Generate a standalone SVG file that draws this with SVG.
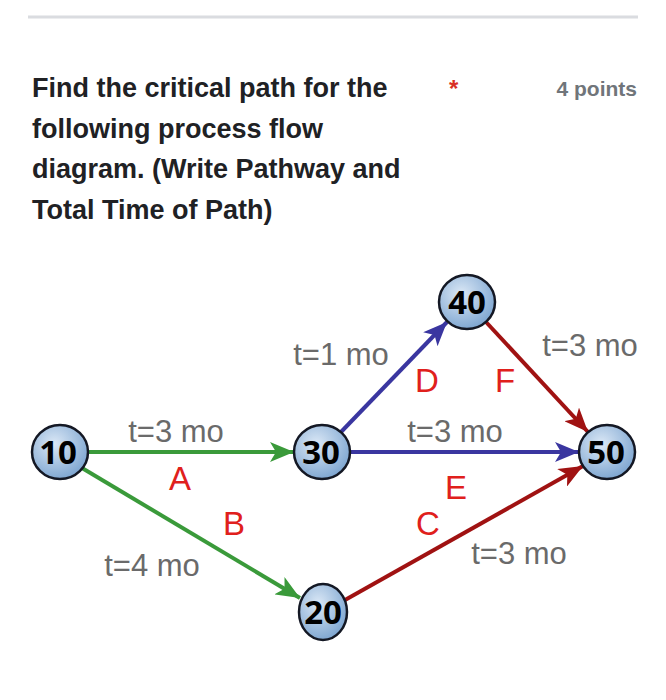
<svg xmlns="http://www.w3.org/2000/svg" width="666" height="700" viewBox="0 0 666 700">
<style>
.title{font-family:"Liberation Sans",Arial,sans-serif;font-weight:bold;font-size:27px;fill:#202124}
.pts{font-family:"Liberation Sans",Arial,sans-serif;font-weight:bold;font-size:21px;fill:#70757a}
.t{font-family:"Liberation Sans",Arial,sans-serif;font-size:31px;fill:#6a6a6a;text-anchor:middle}
.l{font-family:"Liberation Sans",Arial,sans-serif;font-size:33px;fill:#e0201c;text-anchor:middle}
.nd ellipse{fill:url(#g);stroke:#141824;stroke-width:2.5}
.nd text{font-family:"Open Sans","Liberation Sans",sans-serif;font-weight:bold;font-size:33px;fill:#000;text-anchor:middle}
.e{stroke-width:4;fill:none}
</style>
<defs>
<radialGradient id="g" cx="0.4" cy="0.35" r="0.7">
<stop offset="0" stop-color="#dbe8f6"/>
<stop offset="1" stop-color="#7aa3cf"/>
</radialGradient>
<marker id="ag" markerUnits="userSpaceOnUse" markerWidth="26" markerHeight="20" refX="24" refY="10" orient="auto"><path d="M0,0 L24,10 L0,20 L6,10 z" fill="#3a9a3a"/></marker>
<marker id="ab" markerUnits="userSpaceOnUse" markerWidth="26" markerHeight="20" refX="24" refY="10" orient="auto"><path d="M0,0 L24,10 L0,20 L6,10 z" fill="#3a36a0"/></marker>
<marker id="ar" markerUnits="userSpaceOnUse" markerWidth="26" markerHeight="20" refX="24" refY="10" orient="auto"><path d="M0,0 L24,10 L0,20 L6,10 z" fill="#a01212"/></marker>
</defs>
<rect width="666" height="700" fill="#fff"/>
<line x1="28" y1="17" x2="638" y2="17" stroke="#dadce0" stroke-width="3"/>
<text class="title" x="32" y="97">Find the critical path for the</text>
<text class="title" x="32" y="138">following process flow</text>
<text class="title" x="32" y="178">diagram. (Write Pathway and</text>
<text class="title" x="32" y="219">Total Time of Path)</text>
<text x="449" y="97" font-family="Liberation Sans,Arial,sans-serif" font-weight="bold" font-size="24" fill="#d93025">*</text>
<text class="pts" x="637" y="96" text-anchor="end">4 points</text>
<g id="connectors">
<line class="e" x1="88" y1="452" x2="294" y2="452" stroke="#3a9a3a" marker-end="url(#ag)"/>
<line class="e" x1="82" y1="468" x2="300" y2="598" stroke="#3a9a3a" marker-end="url(#ag)"/>
<line class="e" x1="341" y1="432" x2="447" y2="322" stroke="#3a36a0" marker-end="url(#ab)"/>
<line class="e" x1="350" y1="452" x2="579" y2="452" stroke="#3a36a0" marker-end="url(#ab)"/>
<line class="e" x1="486" y1="322" x2="588" y2="432" stroke="#a01212" marker-end="url(#ar)"/>
<line class="e" x1="345" y1="600" x2="583" y2="466" stroke="#a01212" marker-end="url(#ar)"/>
</g>
<g id="labels">
<text class="t" x="176" y="442">t=3 mo</text>
<text class="l" x="180" y="490">A</text>
<text class="l" x="234" y="535">B</text>
<text class="t" x="152" y="576">t=4 mo</text>
<text class="t" x="341" y="365">t=1 mo</text>
<text class="l" x="427" y="392">D</text>
<text class="l" x="505" y="392">F</text>
<text class="t" x="590" y="356">t=3 mo</text>
<text class="t" x="455" y="442">t=3 mo</text>
<text class="l" x="456" y="499">E</text>
<text class="l" x="428" y="535">C</text>
<text class="t" x="519" y="564">t=3 mo</text>
</g>
<g id="n10" class="nd"><ellipse cx="60" cy="452" rx="28" ry="27"/><text x="58" y="464">10</text></g>
<g id="n30" class="nd"><ellipse cx="322" cy="452" rx="28" ry="27"/><text x="321" y="464">30</text></g>
<g id="n40" class="nd"><ellipse cx="467" cy="302" rx="28" ry="27"/><text x="467" y="314">40</text></g>
<g id="n50" class="nd"><ellipse cx="607" cy="452" rx="28" ry="27"/><text x="606" y="464">50</text></g>
<g id="n20" class="nd"><ellipse cx="323" cy="612" rx="24" ry="28"/><text x="323" y="624">20</text></g>
</svg>
